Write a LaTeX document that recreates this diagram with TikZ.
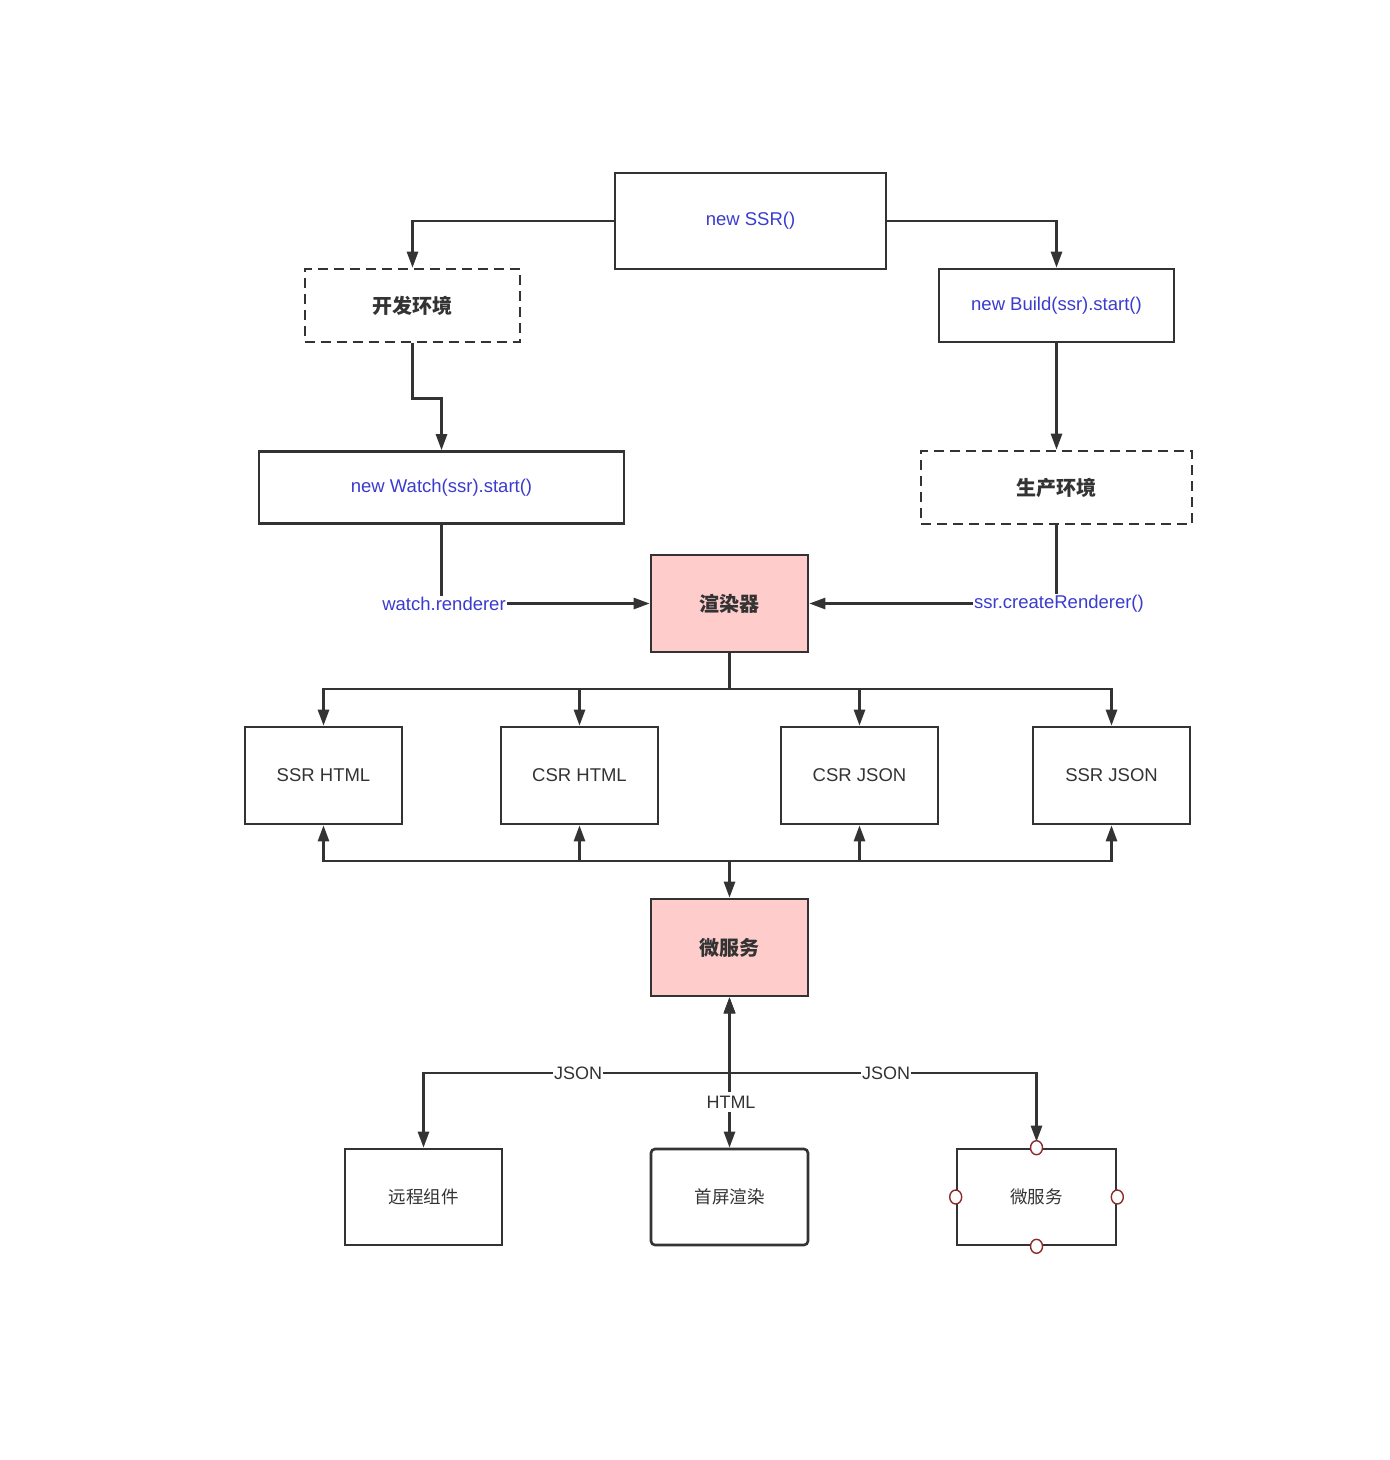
\documentclass[tikz,border=0pt]{standalone}
\usepackage{fontspec}
\setmainfont{Liberation Sans}
\newfontfamily\cjk{Noto Sans CJK SC}
\usetikzlibrary{arrows.meta}
\definecolor{ln}{HTML}{333333}
\definecolor{bl}{HTML}{3B3BCF}
\definecolor{pk}{HTML}{FFCCCC}
\definecolor{cr}{HTML}{8B2A2A}
\begin{document}
\begin{tikzpicture}[x=1pt,y=-1pt,
  box/.style={draw=ln, line width=2.6pt, fill=white, inner sep=0pt, text=ln,
    font=\fontsize{18.5}{20}\selectfont},
  bluebox/.style={box, text=bl},
  dashbox/.style={box, dash pattern=on 10pt off 6pt, font=\cjk\bfseries\fontsize{20}{22}\selectfont},
  pinkbox/.style={box, fill=pk, font=\cjk\bfseries\fontsize{20}{22}\selectfont},
  cnbox/.style={box, font=\cjk\fontsize{17.5}{20}\selectfont},
  line/.style={draw=ln, line width=2.6pt},
  conn/.style={line, -{Triangle[length=16pt,width=11pt]}},
  both/.style={line, {Triangle[length=16pt,width=11pt]}-{Triangle[length=16pt,width=11pt]}},
  lbl/.style={fill=white, inner sep=1pt, text=bl, font=\fontsize{18.5}{20}\selectfont},
  glbl/.style={fill=white, inner xsep=1pt, inner ysep=4pt, text=ln, font=\fontsize{18}{20}\selectfont},
  port/.style={draw=cr, fill=white, line width=1.4pt}]
\useasboundingbox[fill=white] (0,0) rectangle (1390,1460);

% nodes
\node[bluebox, minimum width=271pt, minimum height=96pt] (ssr) at (750.5,221) {new SSR()};
\node[dashbox, minimum width=215pt, minimum height=73pt] (dev) at (412.5,305.5) {开发环境};
\node[bluebox, minimum width=235pt, minimum height=73pt] (build) at (1056.5,305.5) {new Build(ssr).start()};
\node[bluebox, minimum width=365pt, minimum height=72pt] (watch) at (441.5,487.5) {new Watch(ssr).start()};
\node[dashbox, minimum width=271pt, minimum height=73pt] (prod) at (1056.5,487.5) {生产环境};
\node[pinkbox, minimum width=157pt, minimum height=97pt] (rend) at (729.5,603.5) {渲染器};
\node[box, minimum width=157pt, minimum height=97pt] (h1) at (323.5,775.5) {SSR HTML};
\node[box, minimum width=157pt, minimum height=97pt] (h2) at (579.5,775.5) {CSR HTML};
\node[box, minimum width=157pt, minimum height=97pt] (h3) at (859.5,775.5) {CSR JSON};
\node[box, minimum width=157pt, minimum height=97pt] (h4) at (1111.5,775.5) {SSR JSON};
\node[pinkbox, minimum width=157pt, minimum height=97pt] (ms) at (729.5,947.5) {微服务};
\node[cnbox, minimum width=157pt, minimum height=96pt] (rc) at (423.5,1197) {远程组件};
\node[cnbox, rounded corners=4pt, minimum width=157pt, minimum height=96pt] (fs) at (729.5,1197) {首屏渲染};
\node[cnbox, minimum width=159pt, minimum height=96pt] (ms2) at (1036.5,1197) {微服务};

% top connectors
\draw[conn] (ssr.west) -| (dev.north);
\draw[conn] (ssr.east) -| (build.north);
\draw[conn] (dev.south) -- ++(0,55) -| (watch.north);
\draw[conn] (build.south) -- (prod.north);

% renderer inputs
\node[lbl] (wl) at ([xshift=2.5pt]watch.south |- rend.west) {watch.renderer};
\node[lbl] (pl) at ([xshift=2.5pt]prod.south |- rend.east) {ssr.createRenderer()};
\draw[line] (watch.south) -- (watch.south |- wl.north);
\draw[conn] (wl) -- (rend);
\draw[line] (prod.south) -- (prod.south |- pl.north);
\draw[conn] (pl) -- (rend);

% renderer outputs
\coordinate (b1) at (729.5,689);
\draw[line] (rend.south) -- (b1);
\foreach \h in {h1,h2,h3,h4} \draw[conn] (b1) -| (\h.north);

% lower bus
\coordinate (b2) at (729.5,861);
\foreach \h in {h1,h2,h3,h4} \draw[conn] (b2) -| (\h.south);
\draw[conn] (b2) -- (ms.north);

% bottom
\coordinate (j) at (729.5,1073);
\draw[both] (ms.south) -- (j) -| (rc.north);
\draw[both, shorten >=6pt] (ms.south) -- (j) -| (ms2.north);
\draw[both] (ms.south) -- (fs.north);
\node[glbl] at (578,1073) {JSON};
\node[glbl] at (886,1073) {JSON};
\node[glbl] at (731,1102) {HTML};

% ports
\draw[port] (ms2.north) ellipse [x radius=6pt, y radius=7pt];
\draw[port] (ms2.south) ellipse [x radius=6pt, y radius=7pt];
\draw[port] (ms2.west) ellipse [x radius=6pt, y radius=7pt];
\draw[port] (ms2.east) ellipse [x radius=6pt, y radius=7pt];
\end{tikzpicture}
\end{document}
